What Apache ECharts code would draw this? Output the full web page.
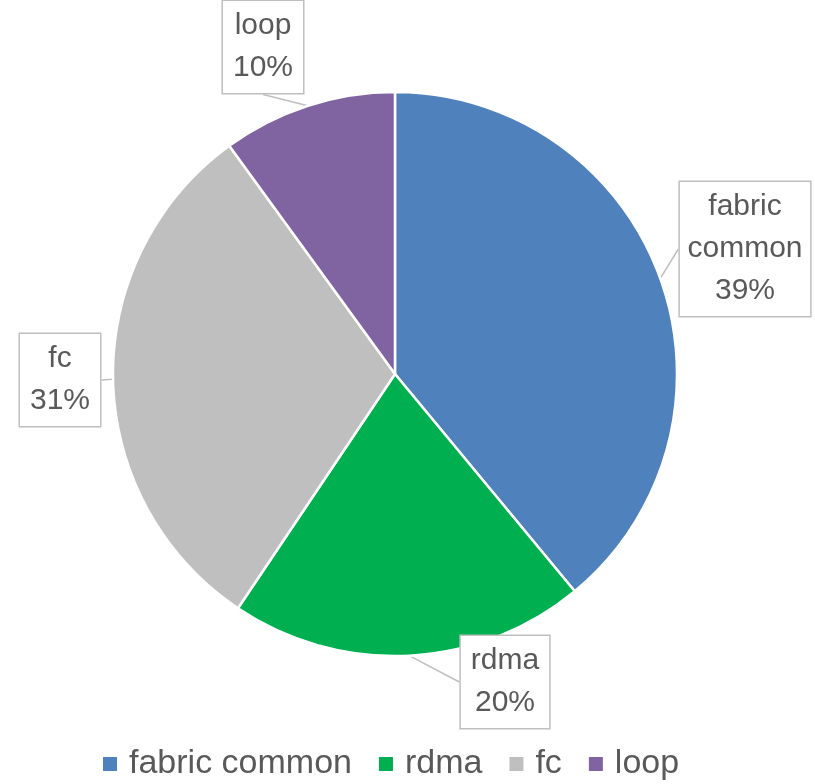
<!DOCTYPE html>
<html>
<head>
<meta charset="utf-8">
<script src="https://cdn.jsdelivr.net/npm/echarts@6/dist/echarts.min.js"></script>
<style>html,body{margin:0;padding:0;background:#fff}#c{width:815px;height:784px}</style>
</head>
<body>
<div id="c"></div>
<script>
const categories = ['fabric common', 'rdma', 'fc', 'loop'];
const values = [39.0, 20.4, 30.6, 10.0];
const colors = ['#4F81BD', '#00B050', '#BFBFBF', '#8064A2'];
const labelPos = [[745, 249], [505, 682], [60, 380], [263, 47]];

const chart = echarts.init(document.getElementById('c'), null, {renderer: 'canvas'});
const FONT = '"Liberation Sans", Arial, sans-serif';
chart.setOption({
  animation: false,
  color: colors,
  legend: {
    top: 742,
    left: 96,
    icon: 'rect',
    itemWidth: 16,
    itemHeight: 16,
    itemGap: 25,
    textStyle: {fontFamily: FONT, fontSize: 34, color: '#595959', padding: [0, 0, 0, 6]},
    data: categories
  },
  series: [{
    type: 'pie',
    center: [395, 374],
    radius: [0, 282],
    startAngle: 90,
    clockwise: true,
    itemStyle: {borderColor: '#fff', borderWidth: 2.5},
    data: categories.map((n, i) => ({name: n, value: values[i]})),
    label: {
      show: true,
      formatter: p => p.name.replace(' ', '\n') + '\n' + Math.round(p.percent) + '%',
      fontFamily: FONT,
      fontSize: 30,
      lineHeight: 42,
      color: '#595959',
      backgroundColor: '#fff',
      borderColor: '#BFBFBF',
      borderWidth: 1.5,
      padding: [4, 10, 4, 10],
      align: 'center',
      overflow: 'none',
      width: null
    },
    labelLine: {show: true, length: 10, length2: 0, lineStyle: {color: '#BFBFBF', width: 1.5}},
    labelLayout: function (p) {
      const pos = labelPos[p.dataIndex];
      return {x: pos[0], y: pos[1], align: 'center', verticalAlign: 'middle'};
    },
    emphasis: {disabled: true}
  }]
});
</script>
</body>
</html>
